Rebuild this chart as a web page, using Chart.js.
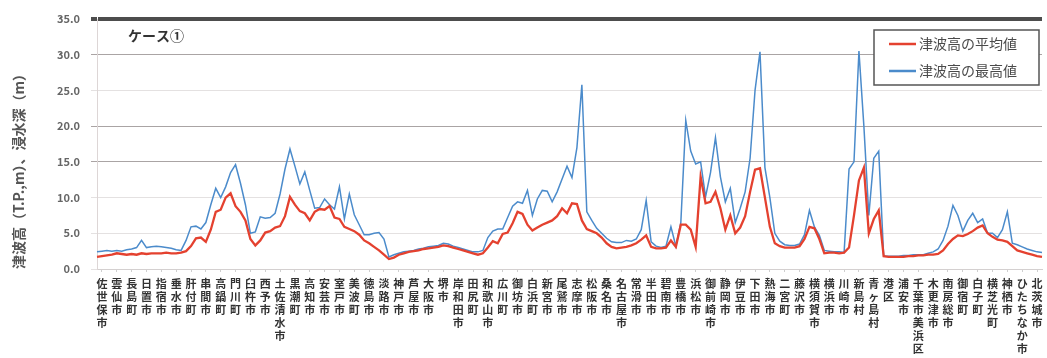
<!DOCTYPE html>
<html>
<head>
<meta charset="utf-8">
<script src="https://cdn.jsdelivr.net/npm/chart.js@4.4.1/dist/chart.umd.min.js"></script>
<style>
  html, body { margin: 0; padding: 0; background: #ffffff; overflow: hidden; }
  #wrap { position: relative; width: 1047px; height: 358px; }
</style>
</head>
<body>
<div id="wrap"><canvas id="c" width="1047" height="358"></canvas></div>
<script>
// Coastal municipalities shown on the axis, west to east
const cities = [
  '佐世保市','雲仙市','長島町','日置市','指宿市','垂水市','肝付町','串間市','高鍋町','門川町',
  '臼杵市','西予市','土佐清水市','黒潮町','高知市','安芸市','室戸市','美波町','徳島市','淡路市',
  '神戸市','芦屋市','大阪市','堺市','岸和田市','田尻町','和歌山市','広川町','御坊市','白浜町',
  '新宮市','尾鷲市','志摩市','松阪市','桑名市','名古屋市','常滑市','半田市','碧南市','豊橋市',
  '浜松市','御前崎市','静岡市','伊豆市','下田市','熱海市','二宮町','藤沢市','横須賀市','横浜市',
  '川崎市','新島村','青ヶ島村','港区','浦安市','千葉市美浜区','木更津市','南房総市','御宿町','白子町',
  '横芝光町','神栖市','ひたちなか市','北茨城市'
];
// every third point along the coast carries a name
const pointsPerCity = 3;
const firstNamedPoint = 1;

// 津波高の平均値 (m)
const avgHeight = [
  1.7,1.8,1.9,2.0,2.2,2.1,2.0,2.1,2.0,2.2,
  2.1,2.2,2.2,2.2,2.3,2.2,2.2,2.3,2.5,3.2,
  4.3,4.4,3.8,5.5,8.0,8.3,10.0,10.6,8.8,8.0,
  6.8,4.2,3.3,4.0,5.1,5.3,5.8,6.0,7.4,10.1,
  9.0,8.1,7.8,6.8,8.0,8.4,8.3,8.8,7.2,7.0,
  5.9,5.6,5.3,4.8,4.0,3.6,3.1,2.6,2.0,1.4,
  1.6,2.0,2.2,2.4,2.5,2.6,2.8,2.9,3.0,3.1,
  3.3,3.2,3.0,2.8,2.6,2.4,2.2,2.0,2.2,3.0,
  3.9,3.6,4.9,5.1,6.4,8.0,7.7,6.2,5.4,5.8,
  6.2,6.5,6.8,7.4,8.5,7.8,9.2,9.1,6.8,5.6,
  5.3,5.0,4.4,3.6,3.1,2.9,3.0,3.1,3.3,3.6,
  4.1,4.7,3.1,2.9,2.9,3.0,4.0,3.1,6.2,6.2,
  5.5,3.1,12.9,9.2,9.4,10.8,8.5,5.5,7.5,5.0,
  5.8,7.4,10.8,13.9,14.1,10.0,5.9,3.6,3.2,3.0,
  3.0,3.0,3.2,4.2,5.9,5.7,4.2,2.2,2.3,2.3,
  2.2,2.3,3.0,7.5,12.4,14.2,5.0,7.0,8.2,1.8,
  1.7,1.7,1.7,1.7,1.8,1.8,1.9,1.9,2.0,2.0,
  2.1,2.6,3.5,4.2,4.7,4.6,4.9,5.3,5.8,6.1,
  5.0,4.5,4.1,4.0,3.8,3.2,2.6,2.4,2.2,2.0,
  1.8,1.7
];

// 津波高の最高値 (m)
const maxHeight = [
  2.4,2.5,2.6,2.5,2.6,2.5,2.7,2.8,3.0,4.0,
  3.0,3.1,3.2,3.1,3.0,2.9,2.7,2.6,4.0,5.9,
  6.0,5.6,6.5,9.0,11.3,10.0,11.5,13.5,14.6,12.0,
  9.0,5.0,5.2,7.3,7.1,7.2,7.8,10.5,14.0,16.8,
  14.4,11.9,13.6,11.0,8.5,8.6,9.8,9.0,8.4,11.5,
  7.0,10.5,7.6,6.2,4.8,4.8,5.0,5.1,4.2,1.7,
  2.0,2.2,2.4,2.5,2.6,2.8,2.9,3.1,3.2,3.3,
  3.6,3.5,3.2,3.0,2.8,2.6,2.4,2.4,2.6,4.4,
  5.3,5.6,5.6,7.2,8.8,9.4,9.2,11.0,7.5,9.8,
  11.0,10.9,9.4,10.8,12.6,14.4,12.8,17.0,25.8,8.0,
  6.8,5.7,5.0,4.3,3.8,3.7,3.7,4.0,3.9,4.2,
  5.5,9.6,3.8,3.2,3.0,3.2,5.9,3.2,6.5,20.8,
  16.5,14.7,15.0,10.1,13.5,18.4,12.9,9.4,11.3,6.5,
  8.5,10.8,15.5,25.0,30.4,14.2,10.0,5.0,3.9,3.4,
  3.3,3.3,3.5,4.8,8.2,5.9,4.7,2.6,2.5,2.4,
  2.4,2.3,14.0,15.0,30.5,20.0,7.5,15.5,16.5,1.8,
  1.8,1.8,1.8,1.9,1.9,2.0,2.0,2.0,2.2,2.4,
  2.8,4.0,6.0,8.9,7.5,5.3,6.8,7.8,6.5,7.0,
  5.0,5.0,4.4,5.5,8.0,3.6,3.4,3.1,2.8,2.6,
  2.4,2.3
];

const yMin = 0, yMax = 35, yStep = 5;
const yTitle = '津波高（T.P.,m）、浸水深（m）';
const caseTitle = 'ケース①';
const seriesNames = ['津波高の平均値', '津波高の最高値'];
const seriesColors = ['#e4412f', '#4b8bcb'];

// category labels: named points get the city, the others stay blank
const categories = avgHeight.map((_, i) => {
  const k = (i - firstNamedPoint) / pointsPerCity;
  return Number.isInteger(k) && k >= 0 && k < cities.length ? cities[k] : '';
});

const jpFont = '"Noto Sans CJK JP", "Noto Sans", sans-serif';

// case caption and framed legend inside the plot
const overlayPlugin = {
  id: 'overlay',
  afterDraw(chart) {
    const { ctx, chartArea } = chart;
    ctx.save();
    ctx.font = 'bold 14px ' + jpFont;
    ctx.fillStyle = '#333333';
    ctx.textBaseline = 'middle';
    ctx.textAlign = 'left';
    ctx.fillText(caseTitle, chartArea.left + 31, chartArea.top + 17);

    const bw = 165, bh = 55;
    const bx = chartArea.right - bw - 3;
    const by = chartArea.top + 11;
    ctx.fillStyle = '#ffffff';
    ctx.fillRect(bx, by, bw, bh);
    ctx.strokeStyle = '#555555';
    ctx.lineWidth = 1.5;
    ctx.strokeRect(bx, by, bw, bh);

    ctx.font = '14px ' + jpFont;
    chart.data.datasets.forEach((ds, i) => {
      const y = by + 14 + i * 27;
      ctx.strokeStyle = ds.borderColor;
      ctx.lineWidth = 2.5;
      ctx.beginPath();
      ctx.moveTo(bx + 15, y);
      ctx.lineTo(bx + 42, y);
      ctx.stroke();
      ctx.fillStyle = '#4a4a4a';
      ctx.fillText(ds.label, bx + 45, y);
    });
    ctx.restore();
  }
};

new Chart(document.getElementById('c'), {
  type: 'line',
  data: {
    labels: categories,
    datasets: [
      { label: seriesNames[0], data: avgHeight, borderColor: seriesColors[0], borderWidth: 2.3,
        pointRadius: 0, fill: false, tension: 0 },
      { label: seriesNames[1], data: maxHeight, borderColor: seriesColors[1], borderWidth: 1.5,
        pointRadius: 0, fill: false, tension: 0 }
    ]
  },
  options: {
    responsive: false,
    animation: false,
    layout: { padding: { top: 19, right: 1, bottom: 0, left: 0 } },
    plugins: { legend: { display: false }, tooltip: { enabled: false } },
    scales: {
      x: {
        type: 'category',
        offset: false,
        afterFit(scale) { scale.height = 89; },
        grid: {
          drawOnChartArea: false,
          drawTicks: true,
          tickLength: 3,
          color: (c) => (categories[c.index] ? '#cfcfcf' : 'rgba(0,0,0,0)')
        },
        border: { display: true, color: '#d4d0d0', width: 1 },
        ticks: {
          autoSkip: false,
          maxRotation: 0,
          minRotation: 0,
          padding: 5,
          color: '#333333',
          font: { family: jpFont, size: 11, weight: 'bold', lineHeight: 1.18 },
          callback: (v, i) => (categories[i] ? Array.from(categories[i]) : '')
        }
      },
      y: {
        min: yMin,
        max: yMax,
        afterFit(scale) { scale.width = 97; },
        grid: {
          tickLength: 6,
          color: (c) => {
            const v = c.tick.value;
            if (v === yMax) return '#4d4d4d';
            if (v === 30 || v === 20 || v === 15) return '#aaa4a4';
            return '#e4e1e1';
          },
          lineWidth: (c) => (c.tick.value === yMax ? 4 : 1)
        },
        border: { display: true, color: '#ddd6d6', width: 1 },
        ticks: {
          stepSize: yStep,
          padding: 11,
          color: '#666666',
          font: { family: jpFont, size: 11, weight: 'bold' },
          callback: (v) => Number(v).toFixed(1)
        },
        title: {
          display: true,
          text: yTitle,
          align: 'start',
          color: '#555555',
          padding: { top: 11, bottom: 0 },
          font: { family: jpFont, size: 14, weight: 'bold', lineHeight: 1.1 }
        }
      }
    }
  },
  plugins: [overlayPlugin]
});
</script>
</body>
</html>
